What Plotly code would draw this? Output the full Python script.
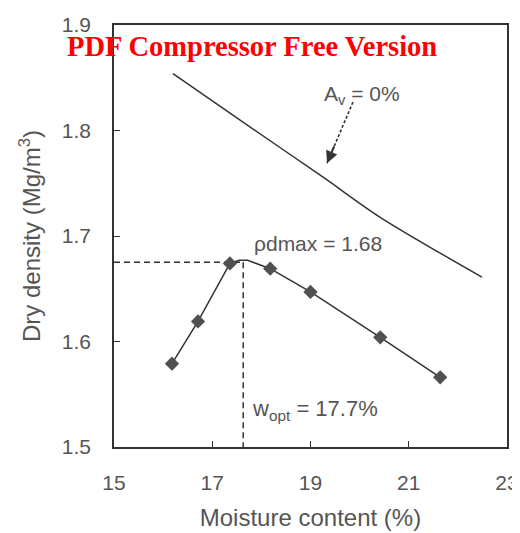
import plotly.graph_objects as go

# Compaction test data
moisture = [16.18, 16.71, 17.36, 18.18, 19.0, 20.42, 21.64]
dry_density = [1.579, 1.619, 1.674, 1.669, 1.647, 1.604, 1.566]

# curve through the points, including the flattened peak
curve_x = [16.18, 16.71, 17.36, 17.55, 17.72, 18.18, 19.0, 20.42, 21.64]
curve_y = [1.579, 1.619, 1.674, 1.677, 1.677, 1.669, 1.647, 1.604, 1.566]

# zero air voids line (Av = 0%)
zav_x = [16.20, 17.56, 19.25, 20.41, 22.49]
zav_y = [1.854, 1.810, 1.756, 1.718, 1.661]

w_opt = 17.63
rho_max = 1.675

x_ticks = [15, 17, 19, 21, 23]
y_ticks = [1.5, 1.6, 1.7, 1.8, 1.9]

# arrow for the Av label (tail, head)
arrow_tail = (19.865, 1.827)
arrow_head = (19.336, 1.769)

ink = "#333333"
txt = "#555555"
font = "Liberation Sans, Arial, sans-serif"

fig = go.Figure()

dash = "6px,4px"
fig.add_trace(go.Scatter(x=[15, w_opt], y=[rho_max, rho_max], mode="lines",
                         line=dict(color=ink, width=1.5, dash=dash), hoverinfo="skip"))
fig.add_trace(go.Scatter(x=[w_opt, w_opt], y=[rho_max, 1.5], mode="lines",
                         line=dict(color=ink, width=1.5, dash=dash), hoverinfo="skip"))
fig.add_trace(go.Scatter(x=zav_x, y=zav_y, mode="lines",
                         line=dict(color=ink, width=1.5, shape="spline", smoothing=0.8)))
fig.add_trace(go.Scatter(x=curve_x, y=curve_y, mode="lines",
                         line=dict(color=ink, width=1.5)))
fig.add_trace(go.Scatter(x=moisture, y=dry_density, mode="markers",
                         marker=dict(symbol="diamond", size=11, color="#505050")))
# dashed arrow shaft
fig.add_trace(go.Scatter(x=[arrow_tail[0], arrow_head[0]], y=[arrow_tail[1], arrow_head[1]],
                         mode="lines", line=dict(color=ink, width=1.6, dash="3px,2px"),
                         hoverinfo="skip"))

# the page body has an 8px margin, so the figure is sized/placed to compensate
fig.update_layout(
    width=512, height=525,
    margin=dict(l=106, r=13, t=17, b=86),
    paper_bgcolor="white", plot_bgcolor="white",
    showlegend=False,
    font=dict(family=font, size=21, color=txt),
    xaxis=dict(range=[15, 23], tickvals=x_ticks, ticktext=[str(v) for v in x_ticks],
               ticks="inside", ticklen=6, tickcolor=ink, showgrid=False, zeroline=False,
               showline=True, linecolor=ink, linewidth=1.5, mirror=True,
               ticklabelstandoff=16, automargin=False,
               tickfont=dict(size=21, color=txt),
               title=dict(text="Moisture content (%)", standoff=16,
                          font=dict(size=24, color=txt))),
    yaxis=dict(range=[1.5, 1.9], tickvals=y_ticks, ticktext=[f"{v:.1f}" for v in y_ticks],
               ticks="inside", ticklen=6, tickcolor=ink, showgrid=False, zeroline=False,
               showline=True, linecolor=ink, linewidth=1.5, mirror=True,
               ticklabelstandoff=17, automargin=False,
               tickfont=dict(size=21, color=txt),
               title=dict(text="Dry density (Mg/m<sup>3</sup>)", standoff=14,
                          font=dict(size=24, color=txt))),
)

# arrow head only (short arrow at end of dashed shaft)
fig.add_annotation(x=arrow_head[0], y=arrow_head[1], xref="x", yref="y",
                   ax=arrow_head[0] + (arrow_tail[0] - arrow_head[0]) * 0.3,
                   ay=arrow_head[1] + (arrow_tail[1] - arrow_head[1]) * 0.3,
                   axref="x", ayref="y",
                   showarrow=True, arrowhead=2, arrowsize=1.2, arrowwidth=2,
                   arrowcolor=ink, text="")
fig.add_annotation(x=20.05, y=1.834, xref="x", yref="y", showarrow=False,
                   text="A<sub>v</sub> = 0%", font=dict(size=21, color=txt))
fig.add_annotation(x=17.81, y=1.693, xref="x", yref="y", showarrow=False, xanchor="left",
                   text="ρdmax = 1.68", font=dict(size=21, color=txt))
fig.add_annotation(x=17.77, y=1.535, xref="x", yref="y", showarrow=False, xanchor="left",
                   text="w<sub>opt</sub> = 17.7%", font=dict(size=22, color=txt))

# watermark
fig.add_annotation(x=(65 - 114) / 393, y=(447 - 46) / 422, xref="paper", yref="paper",
                   showarrow=False, text="PDF Compressor Free Version",
                   xanchor="left", yanchor="middle",
                   font=dict(family="Liberation Serif, Times New Roman, serif", size=28.5,
                             color="#ff0000", weight="bold"))

fig.write_html("out.html")
